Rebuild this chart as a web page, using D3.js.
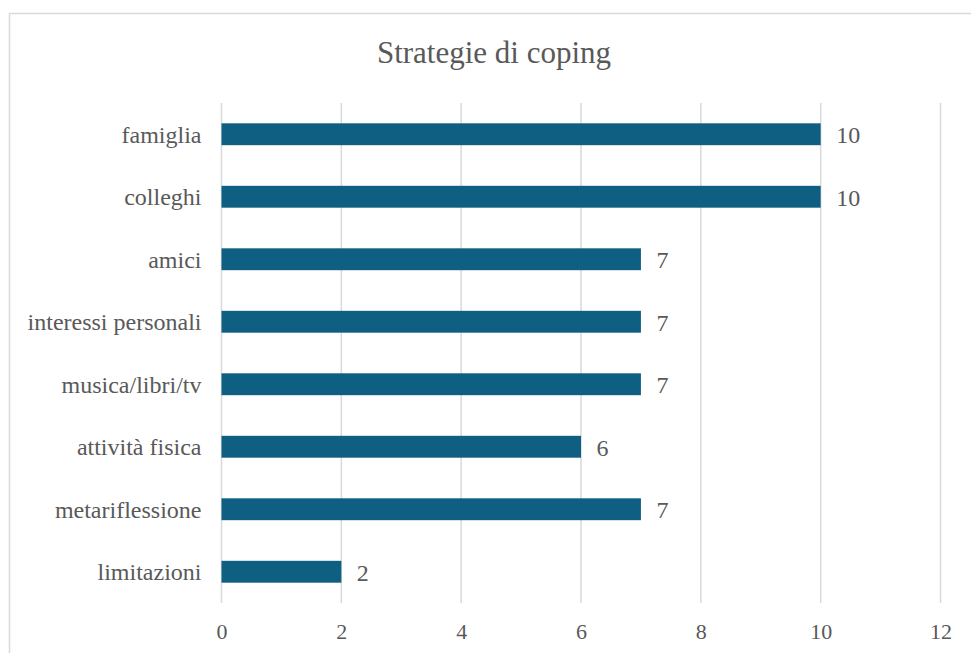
<!DOCTYPE html>
<html>
<head>
<meta charset="utf-8">
<script src="https://cdn.jsdelivr.net/npm/d3@7"></script>
<style>
  body { margin: 0; background: #fff; }
</style>
</head>
<body>
<svg id="chart"></svg>
<script>
const categories = ['famiglia', 'colleghi', 'amici', 'interessi personali', 'musica/libri/tv', 'attività fisica', 'metariflessione', 'limitazioni']
const values = [10, 10, 7, 7, 7, 6, 7, 2]
const xTicks = [0, 2, 4, 6, 8, 10, 12]
const title = 'Strategie di coping'

const W = 971, H = 653
const FONT = 'Liberation Serif, serif'
const TEXT = '#595959'
const margin = { top: 103, right: 30, bottom: 50, left: 221.5 }
const width = 940.5 - margin.left
const height = 603 - margin.top

const svg = d3.select('#chart')
    .attr('width', W)
    .attr('height', H)
    .attr('font-family', FONT)

// chart frame
svg.append('rect')
    .attr('x', 9.5)
    .attr('y', 13.5)
    .attr('width', W + 10)
    .attr('height', H + 10)
    .attr('fill', 'none')
    .attr('stroke', '#d9d9d9')
    .attr('stroke-width', 1.5)

svg.append('text')
    .attr('x', 494)
    .attr('y', 63)
    .attr('text-anchor', 'middle')
    .attr('font-family', FONT)
    .attr('font-size', 31)
    .attr('fill', TEXT)
    .text(title)

const chart = svg.append('g')
    .attr('transform', `translate(${margin.left}, ${margin.top})`)

const xScale = d3.scaleLinear()
    .domain([0, 12])
    .range([0, width])

const yScale = d3.scaleBand()
    .domain(categories)
    .range([0, height])
    .paddingInner(0.65)
    .paddingOuter(0.325)

// gridlines
chart.selectAll('.grid')
    .data(xTicks)
    .join('line')
        .attr('class', 'grid')
        .attr('x1', d => xScale(d))
        .attr('x2', d => xScale(d))
        .attr('y1', 0)
        .attr('y2', height)
        .attr('stroke', '#d9d9d9')
        .attr('stroke-width', 1.5)

const xAxis = d3.axisBottom(xScale).tickValues(xTicks).tickSize(0).tickPadding(20)
chart.append('g')
    .attr('class', 'axis x-axis')
    .attr('transform', `translate(0, ${height})`)
    .call(xAxis)
    .attr('font-family', FONT)
    .attr('font-size', 22)
    .call(g => g.select('.domain').remove())
    .selectAll('text')
        .attr('fill', TEXT)

const yAxis = d3.axisLeft(yScale).tickSize(0).tickPadding(20)
chart.append('g')
    .attr('class', 'axis y-axis')
    .call(yAxis)
    .attr('font-family', FONT)
    .attr('font-size', 24)
    .call(g => g.select('.domain').remove())
    .selectAll('text')
        .attr('fill', TEXT)
        .attr('dy', '0.36em')

const data = categories.map((c, i) => ({ cat: c, val: values[i] }))

chart.selectAll('.bar')
    .data(data)
    .join('rect')
        .attr('class', 'bar')
        .attr('fill', '#0e5f82')
        .attr('x', xScale(0))
        .attr('y', d => yScale(d.cat))
        .attr('width', d => xScale(d.val) - xScale(0))
        .attr('height', yScale.bandwidth())

chart.selectAll('.val')
    .data(data)
    .join('text')
        .attr('class', 'val')
        .attr('x', d => xScale(d.val) + 15.5)
        .attr('y', d => yScale(d.cat) + yScale.bandwidth() / 2)
        .attr('dy', '0.38em')
        .attr('font-family', FONT)
        .attr('font-size', 24)
        .attr('fill', TEXT)
        .text(d => d.val)
</script>
</body>
</html>
